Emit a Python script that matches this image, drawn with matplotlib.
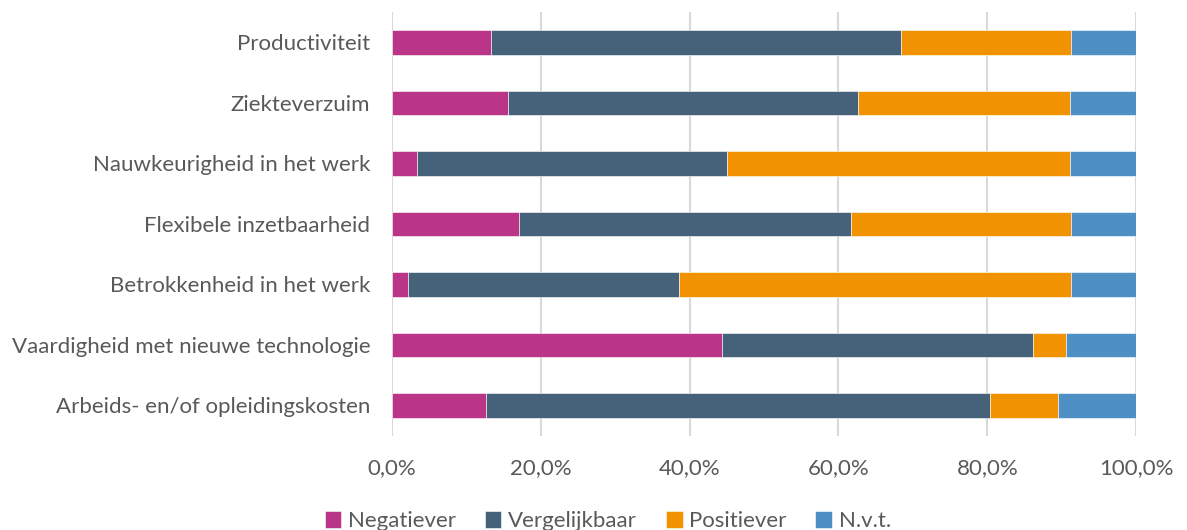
import matplotlib
matplotlib.use("Agg")
import matplotlib.pyplot as plt
import numpy as np

plt.rcParams['font.family'] = ['Lato', 'DejaVu Sans']

categories = [
    "Productiviteit",
    "Ziekteverzuim",
    "Nauwkeurigheid in het werk",
    "Flexibele inzetbaarheid",
    "Betrokkenheid in het werk",
    "Vaardigheid met nieuwe technologie",
    "Arbeids- en/of opleidingskosten",
]
negatiever = [13.3, 15.6, 3.4, 17.1, 2.2, 44.3, 12.6]
vergelijkbaar = [55.1, 47.0, 41.6, 44.6, 36.4, 41.9, 67.8]
positiever = [22.8, 28.5, 46.1, 29.5, 52.6, 4.4, 9.1]
nvt = [8.8, 8.9, 8.9, 8.8, 8.8, 9.4, 10.5]

series = [
    ("Negatiever", negatiever, "#BA3488"),
    ("Vergelijkbaar", vergelijkbaar, "#46617A"),
    ("Positiever", positiever, "#F19300"),
    ("N.v.t.", nvt, "#4E8FC4"),
]
xticks = [0, 20, 40, 60, 80, 100]
xticklabels = ["0,0%", "20,0%", "40,0%", "60,0%", "80,0%", "100,0%"]

fig = plt.figure(figsize=(11.87, 5.30), dpi=100)
ax = fig.add_axes([0.3302, 0.178, 0.627, 0.799])

y = np.arange(len(categories))
left = np.zeros(len(categories))
for name, vals, color in series:
    vals = np.array(vals)
    ax.barh(y, vals, left=left, height=0.4, color=color, label=name,
            edgecolor="white", linewidth=0.4, zorder=3)
    left += vals

ax.set_ylim(len(categories) - 0.5, -0.5)
ax.set_xlim(0, 100)
ax.set_yticks(y)
ax.set_yticklabels(categories, fontsize=16, color="#595959")
ax.set_xticks(xticks)
ax.set_xticklabels(xticklabels, fontsize=16, color="#595959")
ax.tick_params(axis="both", length=0)
ax.tick_params(axis="y", pad=15.5)
ax.tick_params(axis="x", pad=16)
ax.grid(axis="x", color="#D9D9D9", linewidth=1.5, zorder=0)
for s in ax.spines.values():
    s.set_visible(False)

leg = fig.legend(loc="lower center", bbox_to_anchor=(0.512, -0.04), ncol=4,
                 frameon=False, fontsize=16, handlelength=0.75, handleheight=0.75,
                 handletextpad=0.3, columnspacing=1.3)
for t in leg.get_texts():
    t.set_color("#595959")

fig.savefig("out.png", dpi=100)
